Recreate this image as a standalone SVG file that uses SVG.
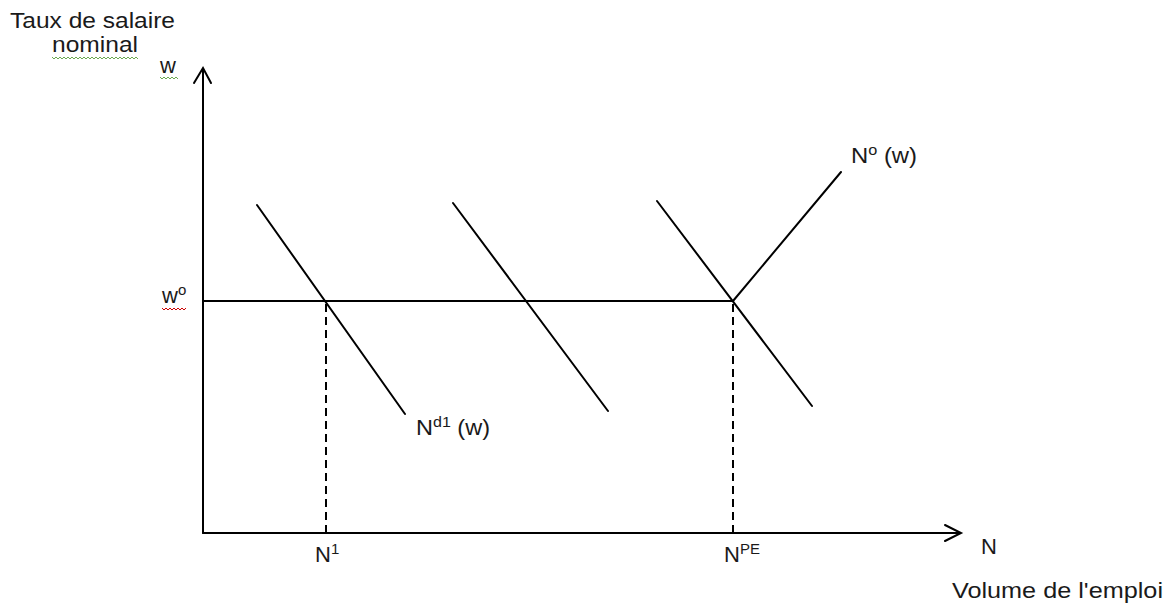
<svg xmlns="http://www.w3.org/2000/svg" width="1164" height="605" viewBox="0 0 1164 605">
<style>
.t{font-family:"Liberation Sans",Arial,sans-serif;font-size:22px;fill:#1a1a1a}
.sup{font-size:15px}
.ln{stroke:#000;stroke-width:2;fill:none;stroke-linecap:round}
.ds{stroke:#000;stroke-width:2;fill:none;stroke-dasharray:8,5}
.wg{stroke:#6aa84f;stroke-width:1;fill:none}
.wr{stroke:#cc0000;stroke-width:1;fill:none}
</style>
<rect width="1164" height="605" fill="#fff"/>
<g id="axes">
<line class="ln" x1="203" y1="69" x2="203" y2="533"/>
<line class="ln" x1="203" y1="533" x2="960" y2="533"/>
<polyline class="ln" points="194,83 203,68 211,83"/>
<polyline class="ln" points="945,525 961,533 945,541"/>
</g>
<g id="connectors">
<line class="ln" x1="203" y1="301" x2="733" y2="301"/>
<line class="ds" x1="326" y1="304" x2="326" y2="533"/>
<line class="ds" x1="733" y1="304" x2="733" y2="533"/>
</g>
<g id="demand1"><line class="ln" x1="257" y1="205" x2="405" y2="414"/></g>
<g id="demand2"><line class="ln" x1="453" y1="203" x2="608" y2="411"/></g>
<g id="demand3"><line class="ln" x1="657" y1="201" x2="812" y2="406"/></g>
<g id="supply"><line class="ln" x1="733" y1="301" x2="841" y2="172"/></g>
<g id="labels">
<text class="t" x="10" y="28" textLength="165" lengthAdjust="spacingAndGlyphs">Taux de salaire</text>
<text class="t" x="52" y="52" textLength="86" lengthAdjust="spacingAndGlyphs">nominal</text>
<polyline class="wg" points="52,57 54,59 56,57 58,59 60,57 62,59 64,57 66,59 68,57 70,59 72,57 74,59 76,57 78,59 80,57 82,59 84,57 86,59 88,57 90,59 92,57 94,59 96,57 98,59 100,57 102,59 104,57 106,59 108,57 110,59 112,57 114,59 116,57 118,59 120,57 122,59 124,57 126,59 128,57 130,59 132,57 134,59 136,57 138,59"/>
<text class="t" x="160" y="73">w</text>
<polyline class="wg" points="160,77 162,79 164,77 166,79 168,77 170,79 172,77 174,79 176,77 178,79"/>
<text class="t" x="162" y="303">w<tspan class="sup" dy="-8">o</tspan></text>
<polyline class="wr" points="162,308 164,310 166,308 168,310 170,308 172,310 174,308 176,310 178,308 180,310 182,308 184,310 186,308"/>
<text class="t" x="416" y="435" textLength="74" lengthAdjust="spacingAndGlyphs">N<tspan class="sup" dy="-8">d1</tspan><tspan dy="8"> (w)</tspan></text>
<text class="t" x="851" y="163" textLength="66" lengthAdjust="spacingAndGlyphs">N<tspan class="sup" dy="-8">o</tspan><tspan dy="8"> (w)</tspan></text>
<text class="t" x="315" y="562">N<tspan class="sup" dy="-8">1</tspan></text>
<text class="t" x="724" y="562">N<tspan class="sup" dy="-8">PE</tspan></text>
<text class="t" x="981" y="554">N</text>
<text class="t" x="952" y="598" textLength="211" lengthAdjust="spacingAndGlyphs">Volume de l'emploi</text>
</g>
</svg>
